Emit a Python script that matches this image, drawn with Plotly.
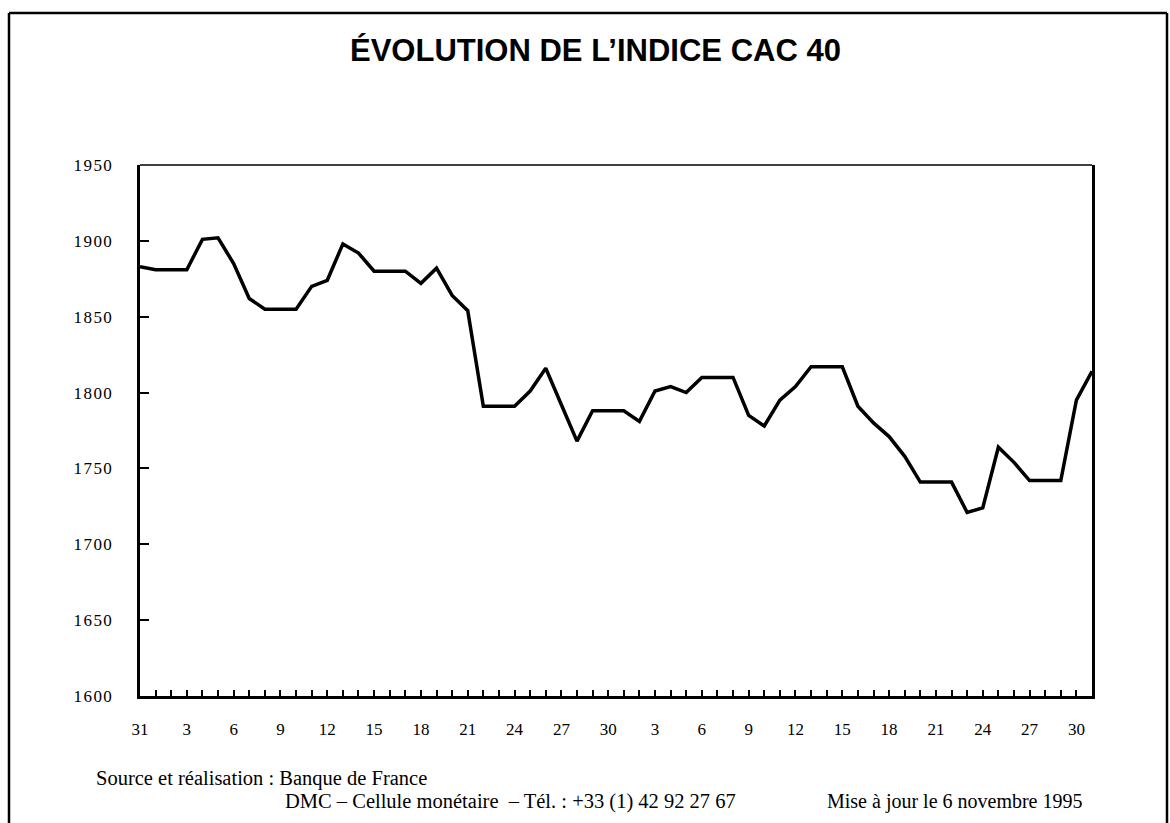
import pandas as pd
import plotly.graph_objects as go

# Daily dates (calendar days) 31 Aug 1995 -> 31 Oct 1995
dates = pd.date_range("1995-08-31", "1995-10-31", freq="D")

# CAC 40 index values
cac40 = [1883, 1881, 1881, 1881, 1901, 1902, 1885, 1862, 1855, 1855,
         1855, 1870, 1874, 1898, 1892, 1880, 1880, 1880, 1872, 1882,
         1864, 1854, 1791, 1791, 1791, 1801, 1816, 1792, 1768, 1788,
         1788, 1788, 1781, 1801, 1804, 1800, 1810, 1810, 1810, 1785,
         1778, 1795, 1804, 1817, 1817, 1817, 1791, 1780, 1771, 1758,
         1741, 1741, 1741, 1721, 1724, 1764, 1754, 1742, 1742, 1742,
         1795, 1814]

# X tick labels (every third day)
x_tick_labels = ["31", "3", "6", "9", "12", "15", "18", "21", "24", "27", "30",
                 "3", "6", "9", "12", "15", "18", "21", "24", "27", "30"]
y_ticks = [1600, 1650, 1700, 1750, 1800, 1850, 1900, 1950]

title_text = "ÉVOLUTION DE L’INDICE CAC 40"
source_text = "Source et réalisation : Banque de France"
contact_text = "DMC – Cellule monétaire \u00a0– Tél. : +33 (1) 42 92 27 67"
update_text = "Mise à jour le 6 novembre 1995"

W, H = 1170, 823
L, R, T, B = 140, 1092, 165, 696
pw, ph = R - L, B - T

def px(x):
    return (x - L) / pw

def py(y):
    return (B - y) / ph

# every day gets a tick; label every 3rd day
ticktext = []
k = 0
for i in range(len(dates)):
    if i % 3 == 0 and k < len(x_tick_labels):
        ticktext.append(x_tick_labels[k])
        k += 1
    else:
        ticktext.append("")

serif = "Liberation Serif, Times New Roman, serif"

fig = go.Figure()
fig.add_trace(go.Scatter(
    x=dates, y=cac40, mode="lines",
    line=dict(color="black", width=3.5),
    showlegend=False, hoverinfo="x+y",
))

frame = dict(color="black", width=2.5)
fig.update_layout(
    width=W, height=H,
    margin=dict(l=L, r=W - R, t=T, b=H - B, pad=0),
    paper_bgcolor="white", plot_bgcolor="white",
    xaxis=dict(
        range=[dates[0], dates[-1]],
        tickvals=list(dates), ticktext=ticktext,
        ticks="inside", ticklen=6, tickwidth=2, tickcolor="black",
        showline=True, linecolor="black", linewidth=2.5,
        showgrid=False, zeroline=False,
        tickfont=dict(family=serif, size=17, color="black"),
        ticklabelstandoff=16,
    ),
    yaxis=dict(
        range=[1600, 1950],
        tickvals=y_ticks,
        ticktext=["\u200a".join(str(v)) for v in y_ticks],
        ticks="inside", ticklen=9, tickwidth=2, tickcolor="black",
        showline=True, linecolor="black", linewidth=2.5, mirror=True,
        showgrid=False, zeroline=False,
        tickfont=dict(family=serif, size=17, color="black"),
        ticklabelstandoff=22,
    ),
    shapes=[
        # thin top edge of plot box
        dict(type="line", xref="paper", yref="paper", x0=0, x1=1, y0=1, y1=1,
             line=dict(color="black", width=1.5)),
        # outer frame: left, top, right edges
        dict(type="line", xref="paper", yref="paper",
             x0=px(9), x1=px(9), y0=py(13), y1=py(830), line=frame),
        dict(type="line", xref="paper", yref="paper",
             x0=px(9), x1=px(1167), y0=py(13), y1=py(13), line=frame),
        dict(type="line", xref="paper", yref="paper",
             x0=px(1167), x1=px(1167), y0=py(13), y1=py(830), line=frame),
    ],
    annotations=[
        dict(text="<b>" + title_text + "</b>", xref="paper", yref="paper",
             x=px(595), y=py(51), xanchor="center", yanchor="middle",
             showarrow=False,
             font=dict(family="Liberation Sans, Arial, sans-serif", size=31, color="black")),
        dict(text=source_text, xref="paper", yref="paper",
             x=px(94), y=py(778), xanchor="left", yanchor="middle",
             showarrow=False, font=dict(family=serif, size=20.5, color="black")),
        dict(text=contact_text, xref="paper", yref="paper",
             x=px(283), y=py(801), xanchor="left", yanchor="middle",
             showarrow=False, font=dict(family=serif, size=20.5, color="black")),
        dict(text=update_text, xref="paper", yref="paper",
             x=px(825), y=py(801), xanchor="left", yanchor="middle",
             showarrow=False, font=dict(family=serif, size=20, color="black")),
    ],
)

fig.write_html(
    "out.html",
    config={"displayModeBar": False},
    post_script="document.body.style.margin='0';document.body.style.overflow='hidden';",
)
